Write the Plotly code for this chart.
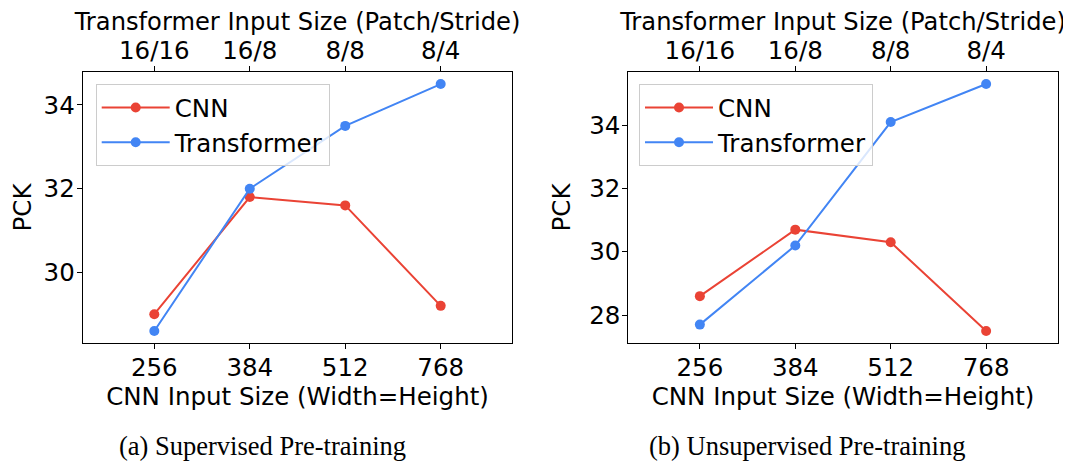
import plotly.graph_objects as go

cnn_sizes = ["256", "384", "512", "768"]
transformer_sizes = ["16/16", "16/8", "8/8", "8/4"]

sup_cnn = [29.0, 31.8, 31.6, 29.2]
sup_transformer = [28.6, 32.0, 33.5, 34.5]
unsup_cnn = [28.6, 30.7, 30.3, 27.5]
unsup_transformer = [27.7, 30.2, 34.1, 35.3]

captions = ["(a) Supervised Pre-training", "(b) Unsupervised Pre-training"]

RED = "#EA4335"
BLUE = "#4285F4"
FONT = "DejaVu Sans"
FS = 24.5
OFF = 8  # browser default body margin
W, H = 1071 - OFF, 462 - OFF

idx = list(range(len(cnn_sizes)))


def px_x(v):
    return (v - OFF) / W


def px_y(v):
    return 1 - (v - OFF) / H


def auto_range(*series):
    vals = [v for s in series for v in s]
    lo, hi = min(vals), max(vals)
    pad = 0.05 * (hi - lo)
    return [lo - pad, hi + pad]


fig = go.Figure()

panels = [
    (sup_cnn, sup_transformer, ("xaxis", "xaxis2", "yaxis"), ("x", "x2", "y"), "legend", [82.7, 512.3]),
    (unsup_cnn, unsup_transformer, ("xaxis3", "xaxis4", "yaxis2"), ("x3", "x4", "y2"), "legend2", [628.3, 1057.7]),
]
ydom = [px_y(343.3), px_y(71.7)]

for cnn_vals, tr_vals, names, ids, lg, _ in panels:
    fig.add_trace(go.Scatter(x=idx, y=cnn_vals, name="CNN", mode="lines+markers",
                             line=dict(color=RED, width=2), marker=dict(size=10, color=RED),
                             xaxis=ids[0], yaxis=ids[2], legend=lg, legendgroup="cnn" + lg))
    fig.add_trace(go.Scatter(x=idx, y=tr_vals, name="Transformer", mode="lines+markers",
                             line=dict(color=BLUE, width=2), marker=dict(size=10, color=BLUE),
                             xaxis=ids[1], yaxis=ids[2], legend=lg, legendgroup="tr" + lg))

tf = dict(family=FONT, size=FS, color="black")
common_x = dict(range=[-0.75, 3.75], tickvals=idx, showgrid=False, zeroline=False,
                ticks="outside", ticklen=5, tickwidth=1, tickcolor="black", tickfont=tf)

layout = dict(width=W, height=H, margin=dict(l=0, r=0, t=0, b=0),
              plot_bgcolor="white", paper_bgcolor="white", font=tf)

for cnn_vals, tr_vals, names, ids, lg, px in panels:
    dom = [px_x(px[0]), px_x(px[1])]
    bx, tx, yn = names
    xid, x2id, yid = ids
    layout[bx] = dict(common_x, domain=dom, anchor=yid, ticktext=cnn_sizes,
                      showline=True, linecolor="black", linewidth=1, mirror=True,
                      ticklabelstandoff=-3,
                      title=dict(text="CNN Input Size (Width=Height)", standoff=2, font=tf))
    layout[tx] = dict(common_x, overlaying=xid, side="top", anchor=yid, ticktext=transformer_sizes,
                      showline=False, ticklabelstandoff=-3,
                      title=dict(text="Transformer Input Size (Patch/Stride)", standoff=0,
                                 font=dict(tf, size=24.2)))
    layout[yn] = dict(domain=ydom, anchor=xid, range=auto_range(cnn_vals, tr_vals), dtick=2,
                      showgrid=False, zeroline=False, showline=True, linecolor="black",
                      linewidth=1, mirror=True, ticks="outside", ticklen=5, tickcolor="black",
                      tickfont=tf, ticklabelstandoff=-3,
                      title=dict(text="PCK", standoff=11, font=tf))

leg_common = dict(xanchor="left", yanchor="top", bgcolor="rgba(255,255,255,0.8)",
                  bordercolor="#cccccc", borderwidth=1, tracegroupgap=0, itemwidth=68,
                  traceorder="grouped", font=tf)
layout["legend"] = dict(leg_common, x=px_x(95.7), y=px_y(84))
layout["legend2"] = dict(leg_common, x=px_x(639), y=px_y(84))

annotations = []
for cap, cx in zip(captions, [262.5, 807]):
    annotations.append(dict(text=cap, x=px_x(cx), y=px_y(446), xref="paper", yref="paper",
                            xanchor="center", yanchor="middle", showarrow=False,
                            font=dict(family="Liberation Serif", size=26.5, color="black")))
layout["annotations"] = annotations

fig.update_layout(**layout)
fig.write_html("out.html")
